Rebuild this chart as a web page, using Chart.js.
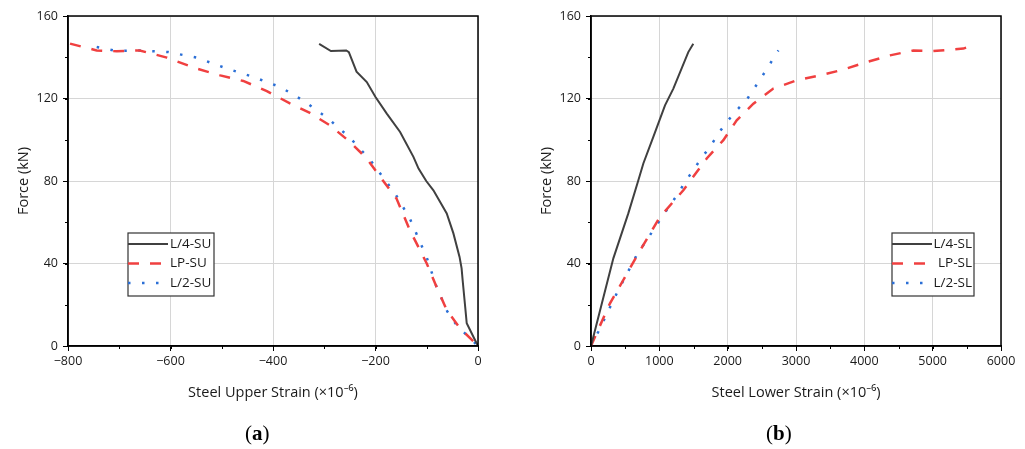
<!DOCTYPE html>
<html>
<head>
<meta charset="utf-8">
<script src="https://cdn.jsdelivr.net/npm/chart.js@4"></script>
<style>
body { margin: 0; width: 1025px; height: 449px; position: relative; background: #fff; overflow: hidden; }
canvas { position: absolute; top: 0; }
#chartA { left: 0; }
#chartB { left: 512px; }
.tag { position: absolute; top: 421px; font: 21px "Liberation Serif", "DejaVu Serif", serif; color: #000; }
</style>
</head>
<body>
<canvas id="chartA" width="512" height="449"></canvas>
<canvas id="chartB" width="513" height="449"></canvas>
<div class="tag" style="left:245px">(<b>a</b>)</div>
<div class="tag" style="left:766px">(<b>b</b>)</div>
<script>
// (a) upper steel strain vs force
const strainL4SU = [-310, -287, -257, -252, -237, -217, -200, -178, -152, -126, -116, -101, -87, -61, -48, -36, -32, -30, -25, -22, -9, 0];
const forceL4SU  = [146.5, 143, 143.3, 142.5, 133, 128, 120.7, 112.7, 103.8, 91.7, 86, 80, 75.5, 64.3, 54.6, 43.2, 37.6, 32, 19, 11, 4.5, 0];

const strainLPSU = [-796, -744, -705, -660, -607, -549, -503, -458, -412, -367, -328, -289, -250, -217, -198, -159, -133, -100, -81, -61, -35, 0];
const forceLPSU  = [146.6, 143.3, 142.9, 143.3, 139.8, 134.5, 131.2, 128.5, 123.6, 117.6, 113, 107, 99, 90.9, 84.4, 71.5, 56.2, 40, 28.7, 17.4, 8.6, 0];

const strainL2SU = [-744, -705, -660, -604, -549, -490, -438, -386, -341, -292, -250, -211, -162, -133, -100, -81, -60, -42, 0];
const forceL2SU  = [145, 143, 143.3, 142.5, 139.8, 134.5, 130.4, 125.6, 119, 110.2, 101, 90.4, 74, 61.8, 42.9, 28.7, 16.8, 10.2, 0];

// (b) lower steel strain vs force
const strainL4SL = [0, 327, 546, 693, 766, 912, 1083, 1205, 1424, 1497];
const forceL4SL  = [0, 42.5, 64.3, 80.4, 88.5, 101.4, 116.7, 124.8, 142.5, 146.6];

const strainLPSL = [0, 59, 278, 473, 693, 1010, 1351, 1693, 1937, 2132, 2376, 2668, 3010, 3351, 3693, 4035, 4376, 4717, 5010, 5449, 5620];
const forceLPSL  = [0, 4.5, 20.7, 32, 44.9, 62.6, 75.5, 90.9, 99.8, 109.4, 117.5, 124.8, 128.8, 131.2, 134, 137.7, 140.9, 143.3, 143, 144.2, 146.1];

const strainL2SL = [0, 107, 376, 669, 912, 1156, 1278, 1376, 1498, 1620, 1742, 1864, 1986, 2132, 2279, 2498, 2742];
const forceL2SL  = [0, 6.9, 25.5, 44.1, 56.2, 68.3, 73.9, 79.6, 85.2, 91.4, 96.5, 103, 108.6, 114.3, 119.4, 130.4, 143.3];

const forceTicks = [0, 40, 80, 120, 160];

const FONT = '"Open Sans", "Noto Sans", sans-serif';
const TEXT = '#1a1a1a';

function pts(xs, ys) {
    return xs.map((x, i) => ({ x: x, y: ys[i] }));
}

function solid(label, xs, ys) {
    return { label: label, data: pts(xs, ys), borderColor: '#404040', borderWidth: 2 };
}
function dashed(label, xs, ys) {
    return { label: label, data: pts(xs, ys), borderColor: '#f04040', borderWidth: 2.5, borderDash: [11, 11] };
}
function dotted(label, xs, ys) {
    return { label: label, data: pts(xs, ys), borderColor: '#2b6fd6', borderWidth: 2.5, borderDash: [2.5, 11.5] };
}

// box around the plot, minor ticks and the boxed legend
const framePlugin = {
    id: 'frame',
    afterDraw(chart, args, opts) {
        const { ctx, chartArea: a, scales } = chart;
        ctx.save();
        ctx.strokeStyle = '#000';
        ctx.lineWidth = 1;
        ctx.beginPath();
        for (let v = scales.x.min; v <= scales.x.max; v += opts.xMinor) {
            const px = Math.round(scales.x.getPixelForValue(v)) + 0.5;
            ctx.moveTo(px, a.bottom); ctx.lineTo(px, a.bottom + 3);
        }
        for (let v = scales.y.min; v <= scales.y.max; v += opts.yMinor) {
            const py = Math.round(scales.y.getPixelForValue(v)) + 0.5;
            ctx.moveTo(a.left, py); ctx.lineTo(a.left - 3, py);
        }
        ctx.stroke();
        ctx.lineWidth = 1.5;
        ctx.strokeRect(a.left, a.top, a.right - a.left, a.bottom - a.top);

        // legend
        const L = opts.legend;
        const bx = a.left + L.x, by = a.top + L.y;
        ctx.lineWidth = 1.2;
        ctx.strokeStyle = '#333';
        ctx.fillStyle = '#fff';
        ctx.fillRect(bx, by, L.w, L.h);
        ctx.strokeRect(bx, by, L.w, L.h);
        ctx.font = '13.5px ' + FONT;
        ctx.textBaseline = 'middle';
        chart.data.datasets.forEach((ds, i) => {
            const cy = by + 11 + i * 19.5;
            ctx.save();
            ctx.beginPath();
            ctx.strokeStyle = ds.borderColor;
            ctx.lineWidth = ds.borderWidth;
            ctx.setLineDash(ds.borderDash || []);
            ctx.moveTo(bx, cy); ctx.lineTo(bx + 40, cy);
            ctx.stroke();
            ctx.restore();
            ctx.fillStyle = TEXT;
            if (L.align === 'right') {
                ctx.textAlign = 'right';
                ctx.fillText(ds.label, bx + L.w - 2, cy);
            } else {
                ctx.textAlign = 'left';
                ctx.fillText(ds.label, bx + 42, cy);
            }
        });
        ctx.restore();
    }
};

function makeChart(id, datasets, xMin, xMax, xStep, xMinor, xTitle, yWidth, yTitlePad, padRight, legend) {
    return new Chart(document.getElementById(id), {
        type: 'line',
        data: { datasets: datasets },
        options: {
            responsive: false,
            animation: false,
            elements: { point: { radius: 0 }, line: { tension: 0, fill: false } },
            layout: { padding: { left: 0, right: padRight, top: 16, bottom: 40 } },
            plugins: {
                legend: { display: false },
                tooltip: { enabled: false },
                frame: { xMinor: xMinor, yMinor: 20, legend: legend }
            },
            scales: {
                x: {
                    type: 'linear',
                    min: xMin, max: xMax,
                    afterFit: s => { s.height = 63; },
                    ticks: {
                        stepSize: xStep, maxRotation: 0, padding: 3,
                        color: TEXT, font: { family: FONT, size: 12.5 },
                        callback: v => String(v).replace('-', '\u2212')
                    },
                    grid: { color: '#d6d6d6', tickColor: '#000', tickLength: 5 },
                    border: { display: true, color: '#000', width: 1.5 },
                    title: {
                        display: true, text: xTitle, color: TEXT,
                        font: { family: FONT, size: 14.5 }, padding: { top: 0, bottom: 7 }
                    }
                },
                y: {
                    type: 'linear',
                    min: 0, max: 160,
                    afterFit: s => { s.width = yWidth; },
                    afterBuildTicks: s => { s.ticks = forceTicks.map(v => ({ value: v })); },
                    ticks: { padding: 5, color: TEXT, font: { family: FONT, size: 12.5 } },
                    grid: { color: '#d6d6d6', tickColor: '#000', tickLength: 5 },
                    border: { display: true, color: '#000', width: 1.5 },
                    title: {
                        display: true, text: 'Force (kN)', color: TEXT,
                        font: { family: FONT, size: 14.5 }, padding: { top: yTitlePad, bottom: 0 }
                    }
                }
            }
        },
        plugins: [framePlugin]
    });
}

makeChart('chartA', [
    solid('L/4-SU', strainL4SU, forceL4SU),
    dashed('LP-SU', strainLPSU, forceLPSU),
    dotted('L/2-SU', strainL2SU, forceL2SU)
], -800, 0, 200, 100, 'Steel Upper Strain (\u00d710\u207b\u2076)', 68, 15, 34,
    { x: 60, y: 217, w: 86, h: 63, align: 'left' });

makeChart('chartB', [
    solid('L/4-SL', strainL4SL, forceL4SL),
    dashed('LP-SL', strainLPSL, forceLPSL),
    dotted('L/2-SL', strainL2SL, forceL2SL)
], 0, 6000, 1000, 500, 'Steel Lower Strain (\u00d710\u207b\u2076)', 79, 26, 24,
    { x: 301, y: 217, w: 82, h: 63, align: 'right' });
</script>
</body>
</html>
